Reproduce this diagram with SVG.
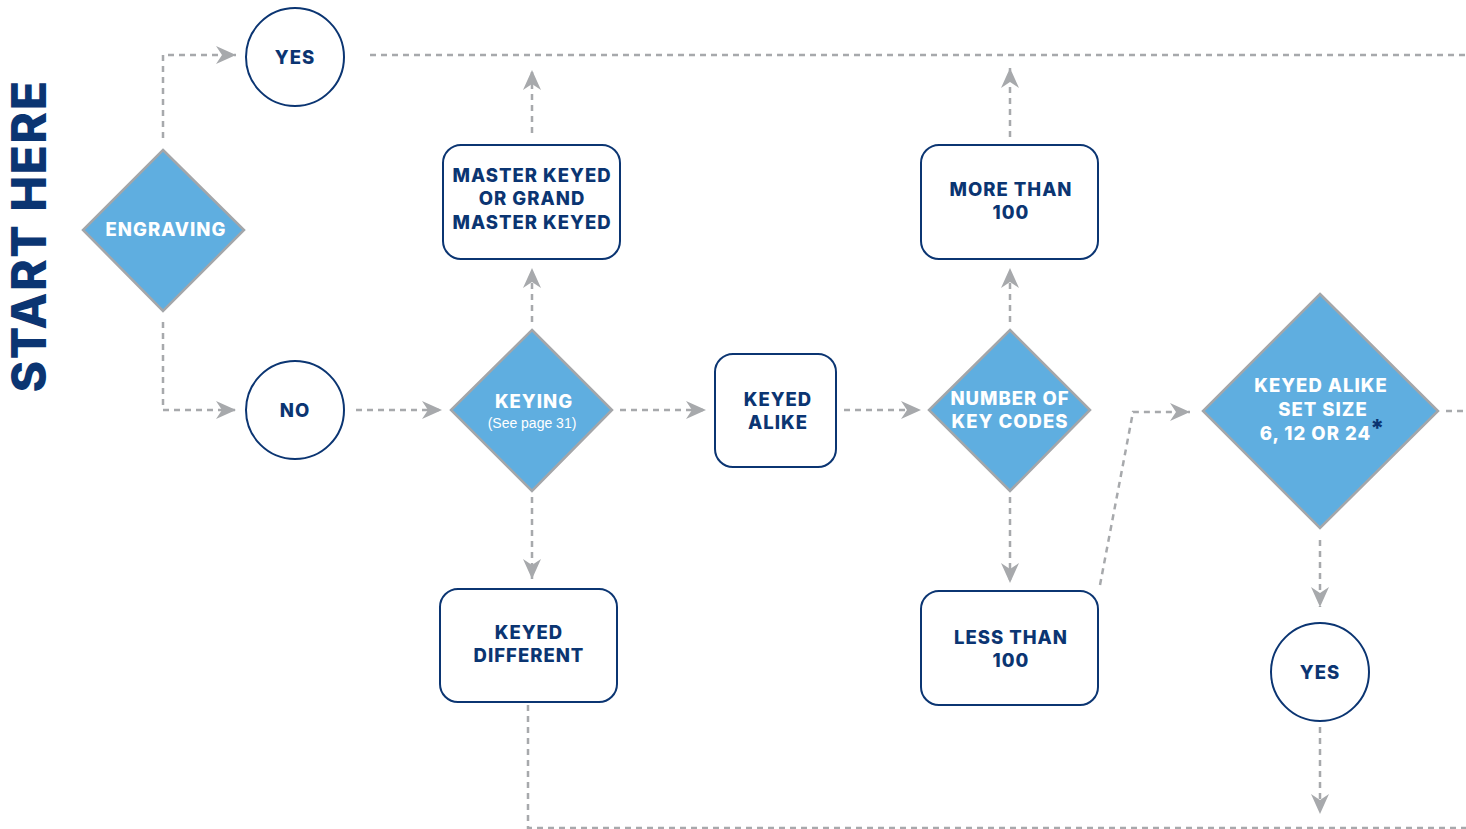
<svg xmlns="http://www.w3.org/2000/svg" width="1466" height="829" viewBox="0 0 1466 829">
<style>
.dia{fill:#5faee0;stroke:#a4a6a9;stroke-width:2.5}
.box{fill:#fff;stroke:#0b3572;stroke-width:2}
.c{fill:none;stroke:#a7a9ac;stroke-width:2.5;stroke-dasharray:6 5}
.t{font-family:Inter,"Open Sans",sans-serif;font-weight:800;font-size:18.5px;letter-spacing:1px;fill:#0b3572;text-anchor:middle}
.w{fill:#fff}
.s{font-family:"Liberation Sans",Arial,sans-serif;font-size:14px;fill:#fff;text-anchor:middle}
</style>
<defs>
<marker id="ah" markerUnits="userSpaceOnUse" markerWidth="22" markerHeight="20" refX="20" refY="9" orient="auto">
<path d="M0,0 L20,9 L0,18 L6,9 Z" fill="#a7a9ac"/>
</marker>
</defs>
<text x="0" y="0" transform="translate(46,236) rotate(-90)" style="font-family:Inter,'Open Sans',sans-serif;font-weight:800;font-size:48px;letter-spacing:1.5px;fill:#0b3572;text-anchor:middle">START HERE</text>
<g id="connectors">
<path class="c" d="M163,138 V55 H236" marker-end="url(#ah)"/>
<path class="c" d="M163,322 V410 H236" marker-end="url(#ah)"/>
<path class="c" d="M370,55 H1466"/>
<path class="c" d="M356,410 H442" marker-end="url(#ah)"/>
<path class="c" d="M620,410 H706" marker-end="url(#ah)"/>
<path class="c" d="M844,410 H921" marker-end="url(#ah)"/>
<path class="c" d="M532,322 V268" marker-end="url(#ah)"/>
<path class="c" d="M532,133 V70" marker-end="url(#ah)"/>
<path class="c" d="M532,497 V579" marker-end="url(#ah)"/>
<path class="c" d="M528,705 V828 H1466"/>
<path class="c" d="M1010,322 V268" marker-end="url(#ah)"/>
<path class="c" d="M1010,137 V68" marker-end="url(#ah)"/>
<path class="c" d="M1010,497 V583" marker-end="url(#ah)"/>
<path class="c" d="M1100,585 L1133,412 H1190" marker-end="url(#ah)"/>
<path class="c" d="M1446,411 H1466"/>
<path class="c" d="M1320,540 V607" marker-end="url(#ah)"/>
<path class="c" d="M1320,727 V814" marker-end="url(#ah)"/>
</g>
<g id="engraving">
<polygon class="dia" points="163,150 244,230 163,311 83,230"/>
<text class="t w" x="166" y="236">ENGRAVING</text>
</g>
<g id="yes1">
<circle class="box" cx="295" cy="57" r="49"/>
<text class="t" x="295" y="64">YES</text>
</g>
<g id="no">
<circle class="box" cx="295" cy="410" r="49"/>
<text class="t" x="295" y="417">NO</text>
</g>
<g id="keying">
<polygon class="dia" points="532,330 612,410 532,491 451,410"/>
<text class="t w" x="534" y="408">KEYING</text>
<text class="s" x="532" y="428">(See page 31)</text>
</g>
<g id="master">
<rect class="box" x="443" y="145" width="177" height="114" rx="18"/>
<text class="t" x="532" y="182">MASTER KEYED</text>
<text class="t" x="532" y="205">OR GRAND</text>
<text class="t" x="532" y="229">MASTER KEYED</text>
</g>
<g id="keyeddiff">
<rect class="box" x="440" y="589" width="177" height="113" rx="18"/>
<text class="t" x="529" y="639">KEYED</text>
<text class="t" x="529" y="662">DIFFERENT</text>
</g>
<g id="keyedalike">
<rect class="box" x="715" y="354" width="121" height="113" rx="18"/>
<text class="t" x="778" y="406">KEYED</text>
<text class="t" x="778" y="429">ALIKE</text>
</g>
<g id="numcodes">
<polygon class="dia" points="1010,330 1090,410 1010,491 929,410"/>
<text class="t w" x="1010" y="405">NUMBER OF</text>
<text class="t w" x="1010" y="428">KEY CODES</text>
</g>
<g id="more">
<rect class="box" x="921" y="145" width="177" height="114" rx="18"/>
<text class="t" x="1011" y="196">MORE THAN</text>
<text class="t" x="1011" y="219">100</text>
</g>
<g id="less">
<rect class="box" x="921" y="591" width="177" height="114" rx="18"/>
<text class="t" x="1011" y="644">LESS THAN</text>
<text class="t" x="1011" y="667">100</text>
</g>
<g id="setsize">
<polygon class="dia" points="1320,294 1438,411 1320,528 1203,411"/>
<text class="t w" x="1321" y="392">KEYED ALIKE</text>
<text class="t w" x="1323" y="416">SET SIZE</text>
<text class="t w" x="1322" y="440">6, 12 OR 24<tspan style="fill:#0b3572;font-size:24px;letter-spacing:0" dx="-1" dy="-3">*</tspan></text>
</g>
<g id="yes2">
<circle class="box" cx="1320" cy="672" r="49"/>
<text class="t" x="1320" y="679">YES</text>
</g>
</svg>
